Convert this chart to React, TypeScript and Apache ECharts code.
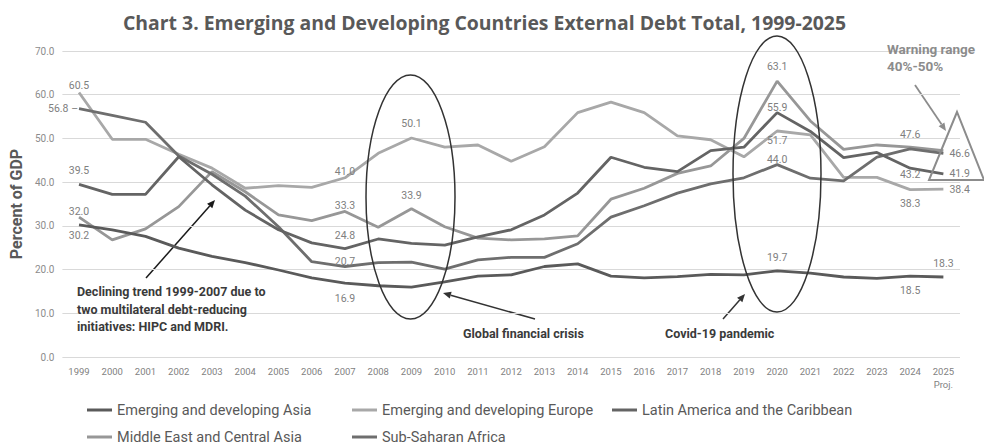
import React, { useEffect, useRef } from "react";
import * as echarts from "echarts";

const years = ["1999","2000","2001","2002","2003","2004","2005","2006","2007","2008","2009","2010","2011","2012","2013","2014","2015","2016","2017","2018","2019","2020","2021","2022","2023","2024","2025"];
const xTickLabels = ["1999","2000","2001","2002","2003","2004","2005","2006","2007","2008","2009","2010","2011","2012","2013","2014","2015","2016","2017","2018","2019","2020","2021","2022","2023","2024","2025\nProj."];
const yTicks = [0, 10, 20, 30, 40, 50, 60, 70];

const asia = [30.2,29.1,27.6,24.9,23.0,21.6,19.9,18.1,16.9,16.3,16.0,17.2,18.5,18.8,20.7,21.3,18.5,18.1,18.4,18.9,18.8,19.7,19.2,18.3,18.0,18.5,18.3];
const europe = [60.5,49.8,49.8,46.4,43.2,38.6,39.2,38.8,41.0,46.6,50.1,48.0,48.5,44.8,48.1,55.9,58.3,55.9,50.6,49.7,45.8,51.7,50.8,41.1,41.1,38.3,38.4];
const latam = [39.5,37.2,37.2,45.8,39.4,33.6,29.1,26.1,24.8,27.0,26.0,25.6,27.5,29.1,32.5,37.5,45.7,43.4,42.4,47.2,48.0,55.9,51.6,45.6,46.8,43.2,41.9];
const meca = [32.0,26.8,29.3,34.4,42.4,37.8,32.5,31.2,33.3,29.7,33.9,29.8,27.2,26.8,27.0,27.7,36.1,38.6,42.0,43.7,50.0,63.1,54.0,47.5,48.5,48.0,47.2];
const ssa = [56.8,55.3,53.7,46.0,41.8,36.8,29.8,21.8,20.7,21.6,21.7,20.1,22.2,22.8,22.8,25.9,32.0,34.6,37.5,39.6,41.0,44.0,40.9,40.3,45.7,47.6,46.6];

const seriesNames = [
  "Emerging and developing Asia",
  "Emerging and developing Europe",
  "Latin America and the Caribbean",
  "Middle East and Central Asia",
  "Sub-Saharan Africa",
];

// which points carry a value label: year -> [position, distance]
const asiaLabels: Record<string, [string, number]> = { "1999": ["bottom", 5], "2007": ["bottom", 10], "2020": ["top", 8], "2024": ["bottom", 9], "2025": ["top", 8] };
const europeLabels: Record<string, [string, number]> = { "1999": ["top", 2], "2007": ["top", 1], "2009": ["top", 9], "2020": ["bottom", 4], "2024": ["bottom", 8], "2025": ["right", 6] };
const latamLabels: Record<string, [string, number]> = { "1999": ["top", 8], "2007": ["top", 8], "2020": ["top", 0], "2024": ["bottom", 1], "2025": ["right", 6] };
const mecaLabels: Record<string, [string, number]> = { "1999": ["top", 0], "2007": ["top", 0], "2009": ["top", 8], "2020": ["top", 9] };
const ssaLabels: Record<string, [string, number]> = { "1999": ["left", 1], "2007": ["top", 0], "2020": ["top", 0], "2024": ["top", 9], "2025": ["right", 6] };

const colors = ["#5a5a5a", "#a8a8a8", "#646464", "#979797", "#6e6e6e"];

// legend cell of each series: [left, top]
const legendCells: [number, number][] = [[87, 402], [352, 402], [612, 402], [87, 429], [352, 429]];

function buildData(values: number[], labels: Record<string, [string, number]>) {
  return values.map((v, i) => {
    const spec = labels[years[i]];
    if (!spec) return v;
    const isLeft = spec[0] === "left";
    return {
      value: v,
      label: {
        show: true,
        position: spec[0],
        distance: spec[1],
        formatter: isLeft ? (p: any) => p.value.toFixed(1) + " \u2013" : (p: any) => p.value.toFixed(1),
      },
    };
  });
}

function arrow(x1: number, y1: number, x2: number, y2: number, color: string, lw: number) {
  const ang = Math.atan2(y2 - y1, x2 - x1);
  const L = 8, W = 3.5;
  const c = Math.cos(ang), s = Math.sin(ang);
  const bx = x2 - L * c, by = y2 - L * s;
  return {
    type: "group",
    children: [
      { type: "line", shape: { x1, y1, x2: bx, y2: by }, style: { stroke: color, lineWidth: lw } },
      { type: "polygon", shape: { points: [[x2, y2], [bx + W * s, by - W * c], [bx - W * s, by + W * c]] }, style: { fill: color } },
    ],
  };
}

export default function App() {
  const ref = useRef<HTMLDivElement>(null);
  useEffect(() => {
    document.body.style.margin = "0";
    const chart = echarts.init(ref.current!, null, { renderer: "svg" });
    const allData = [
      buildData(asia, asiaLabels),
      buildData(europe, europeLabels),
      buildData(latam, latamLabels),
      buildData(meca, mecaLabels),
      buildData(ssa, ssaLabels),
    ];
    const order = [3, 1, 4, 2, 0];
    const series = order.map((k) => ({
      name: seriesNames[k],
      type: "line",
      data: allData[k],
      color: colors[k],
      lineStyle: { width: 2.8, color: colors[k] },
      showSymbol: true,
      showAllSymbol: true,
      symbol: "circle",
      symbolSize: 0,
      itemStyle: { color: colors[k] },
      label: { show: false, color: "#808080", fontSize: 10.5, fontFamily: "Roboto", opacity: 1 },
      emphasis: { disabled: true },
      z: 2,
    }));
    const legends = seriesNames.map((name, k) => ({
      left: legendCells[k][0],
      top: legendCells[k][1],
      padding: 0,
      icon: "rect",
      itemWidth: 25,
      itemHeight: 3,
      selectedMode: false,
      data: [name],
      textStyle: { color: "#595959", fontSize: 14.5, fontFamily: "Roboto", lineHeight: 16 },
    }));
    const grey = "#8c8c8c";
    const dark = "#333333";
    chart.setOption({
      animation: false,
      textStyle: { fontFamily: "Roboto" },
      title: {
        text: "Chart 3. Emerging and Developing Countries External Debt Total, 1999-2025",
        left: 118,
        top: 8,
        textStyle: { color: "#595959", fontSize: 19.4, fontWeight: "bold", fontFamily: "Open Sans" },
      },
      grid: { left: 60, right: 24, top: 51, bottom: 88 },
      legend: legends,
      xAxis: {
        type: "category",
        data: years,
        boundaryGap: true,
        axisLine: { show: false },
        axisTick: { show: false },
        axisLabel: {
          interval: 0,
          color: "#7f7f7f",
          fontSize: 9.5,
          margin: 8,
          lineHeight: 13,
          verticalAlign: "top",
          formatter: (_v: string, i: number) => xTickLabels[i],
        },
      },
      yAxis: {
        type: "value",
        min: yTicks[0],
        max: yTicks[yTicks.length - 1],
        interval: 10,
        name: "Percent of GDP",
        nameLocation: "middle",
        nameGap: 36,
        nameTextStyle: { color: "#595959", fontSize: 16, fontWeight: "bold", fontFamily: "Roboto" },
        axisLine: { show: false },
        axisTick: { show: false },
        splitLine: { lineStyle: { color: "#d9d9d9", width: 1 } },
        axisLabel: { color: "#8c8c8c", fontSize: 10, margin: 8, formatter: (v: number) => v.toFixed(1) },
      },
      series,
      graphic: [
        { type: "ellipse", shape: { cx: 410.5, cy: 197, rx: 44.5, ry: 122 }, style: { fill: "none", stroke: dark, lineWidth: 1.5 }, z: 10 },
        { type: "ellipse", shape: { cx: 777, cy: 174, rx: 44, ry: 138 }, style: { fill: "none", stroke: dark, lineWidth: 1.5 }, z: 10 },
        { ...arrow(146, 278, 215, 200, "#1a1a1a", 1.5), z: 10 },
        { ...arrow(535, 319, 443, 293, dark, 1.5), z: 10 },
        { ...arrow(723, 319, 745, 294, dark, 1.5), z: 10 },
        { ...arrow(915, 85, 946, 131, grey, 1.8), z: 10 },
        {
          type: "polygon",
          shape: { points: [[957, 112], [929, 180], [984, 180]] },
          style: { fill: "none", stroke: grey, lineWidth: 2 },
          z: 10,
        },
        {
          type: "text", x: 77, y: 283, z: 10,
          style: { text: "Declining trend 1999-2007 due to\ntwo multilateral debt-reducing\ninitiatives: HIPC and MDRI.", fill: "#3a3a3a", fontSize: 12.5, fontWeight: "bold", fontFamily: "Roboto", lineHeight: 17.5, verticalAlign: "top" },
        },
        {
          type: "text", x: 463, y: 333, z: 10,
          style: { text: "Global financial crisis", fill: "#3a3a3a", fontSize: 12.5, fontWeight: "bold", fontFamily: "Roboto", verticalAlign: "middle" },
        },
        {
          type: "text", x: 665, y: 333, z: 10,
          style: { text: "Covid-19 pandemic", fill: "#3a3a3a", fontSize: 12.5, fontWeight: "bold", fontFamily: "Roboto", verticalAlign: "middle" },
        },
        {
          type: "text", x: 887, y: 40, z: 10,
          style: { text: "Warning range\n40%-50%", fill: grey, fontSize: 13.5, fontWeight: "bold", fontFamily: "Roboto", lineHeight: 17, verticalAlign: "top" },
        },
      ],
    });
    return () => chart.dispose();
  }, []);
  return <div ref={ref} style={{ width: 984, height: 445 }} />;
}
